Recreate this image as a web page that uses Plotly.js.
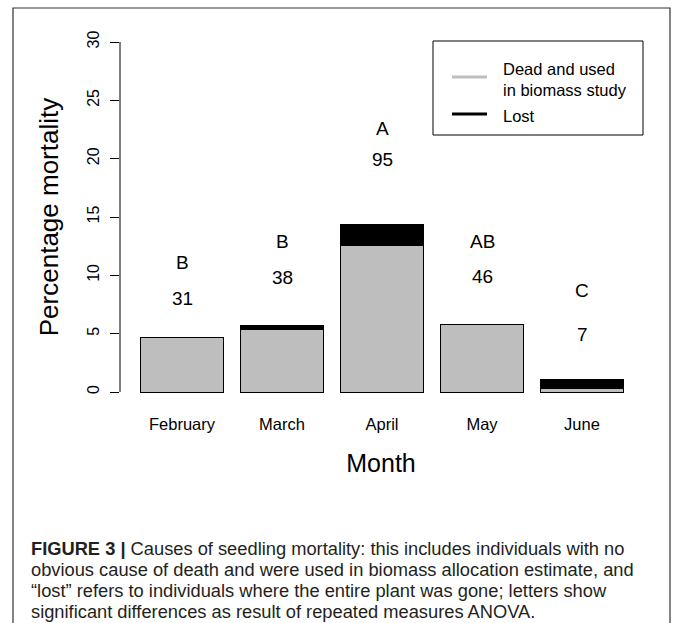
<!DOCTYPE html>
<html>
<head>
<meta charset="utf-8">
<script src="https://cdn.plot.ly/plotly-3.0.1.min.js"></script>
<style>
html,body{margin:0;padding:0;background:#fff;}
#chart{width:673px;height:623px;}
</style>
</head>
<body>
<div id="chart"></div>
<script>
// ---- data ----
const months = ["February", "March", "April", "May", "June"];
const deadBiomass = [4.7, 5.4, 12.6, 5.75, 0.28];
const lost = [0, 0.3, 1.75, 0, 0.82];
const letters = ["B", "B", "A", "AB", "C"];
const counts = ["31", "38", "95", "46", "7"];
const letterHeights = [11.1, 12.9, 22.6, 12.9, 8.7];
const countHeights = [8.0, 9.8, 19.9, 9.9, 4.9];
const yTicks = [0, 5, 10, 15, 20, 25, 30];
const seriesNames = ["Dead and used", "in biomass study", "Lost"];
const captionLines = [
  "<b>FIGURE 3 |</b> Causes of seedling mortality: this includes individuals with no",
  "obvious cause of death and were used in biomass allocation estimate, and",
  "\u201clost\u201d refers to individuals where the entire plant was gone; letters show",
  "significant differences as result of repeated measures ANOVA."
];

// ---- layout geometry ----
const W = 673, H = 623;
const M = {l: 120, r: 31, t: 28, b: 217};
const PW = W - M.l - M.r, PH = H - M.t - M.b;
const px = x => (x - M.l) / PW;
const py = y => (H - M.b - y) / PH;

const FONT = "Liberation Sans, Arial, sans-serif";
const GREY = "#bebebe";

const traces = [
  {
    type: "bar", x: months, y: deadBiomass, name: "Dead and used in biomass study",
    marker: {color: GREY, line: {color: "#000", width: 1}},
    showlegend: false, hoverinfo: "skip"
  },
  {
    type: "bar", x: months, y: lost.map(v => v > 0 ? v : null), name: "Lost",
    marker: {color: "#000", line: {color: "#000", width: 1}},
    showlegend: false, hoverinfo: "skip"
  }
];

const annotations = [];
months.forEach((m, i) => {
  annotations.push({x: m, y: letterHeights[i], xref: "x", yref: "y", text: letters[i],
    showarrow: false, font: {family: FONT, size: 19, color: "#000"}});
  annotations.push({x: m, y: countHeights[i], xref: "x", yref: "y", text: counts[i],
    showarrow: false, font: {family: FONT, size: 19, color: "#000"}});
});
// legend text
const legendTextY = [69, 90, 115.5];
seriesNames.forEach((t, i) => {
  annotations.push({x: px(501), y: py(legendTextY[i]), xref: "paper", yref: "paper",
    xanchor: "left", yanchor: "middle", text: t, showarrow: false,
    font: {family: FONT, size: 16.5, color: "#000"}});
});
// caption
const captionY = [548, 569.5, 590.5, 611.5];
captionLines.forEach((t, i) => {
  annotations.push({x: px(29), y: py(captionY[i]), xref: "paper", yref: "paper",
    xanchor: "left", yanchor: "middle", text: t, showarrow: false,
    font: {family: FONT, size: 18.3, color: "#231f20"}});
});

const shapes = [
  // y axis line spanning only the tick range
  {type: "line", xref: "paper", yref: "y", x0: 0, x1: 0, y0: yTicks[0], y1: yTicks[yTicks.length - 1],
   line: {color: "#000", width: 1}},
  // legend box
  {type: "rect", xref: "paper", yref: "paper", x0: px(433), x1: px(643), y0: py(135), y1: py(41),
   line: {color: "#000", width: 1}},
  {type: "line", xref: "paper", yref: "paper", x0: px(452), x1: px(487), y0: py(77), y1: py(77),
   line: {color: GREY, width: 3}},
  {type: "line", xref: "paper", yref: "paper", x0: px(452), x1: px(487), y0: py(114), y1: py(114),
   line: {color: "#000", width: 3}},
  // outer figure frame
  {type: "rect", xref: "paper", yref: "paper", x0: px(13), x1: px(670), y0: py(660), y1: py(8),
   line: {color: "#333", width: 1.2}}
];

const layout = {
  width: W, height: H,
  margin: M,
  paper_bgcolor: "#fff", plot_bgcolor: "#fff",
  barmode: "stack", bargap: 0.17,
  showlegend: false,
  xaxis: {
    type: "category", range: [-0.62, 4.6], fixedrange: true,
    showline: false, showgrid: false, zeroline: false, ticks: "",
    tickfont: {family: FONT, size: 16.5, color: "#000"},
    ticklabelstandoff: 6,
    title: {text: "Month", font: {family: FONT, size: 25, color: "#000"}, standoff: 22}
  },
  yaxis: {
    range: [-1.2, 31.2], fixedrange: true,
    tickvals: yTicks, ticktext: yTicks.map(String),
    showline: false, showgrid: false, zeroline: false,
    ticks: "outside", ticklen: 9, tickwidth: 1, tickcolor: "#000",
    tickangle: -90,
    tickfont: {family: FONT, size: 16, color: "#000"},
    ticklabelstandoff: 5,
    title: {text: "Percentage mortality", font: {family: FONT, size: 26, color: "#000"}, standoff: 18}
  },
  annotations: annotations,
  shapes: shapes
};

Plotly.newPlot("chart", traces, layout, {staticPlot: true, displayModeBar: false});
</script>
</body>
</html>
